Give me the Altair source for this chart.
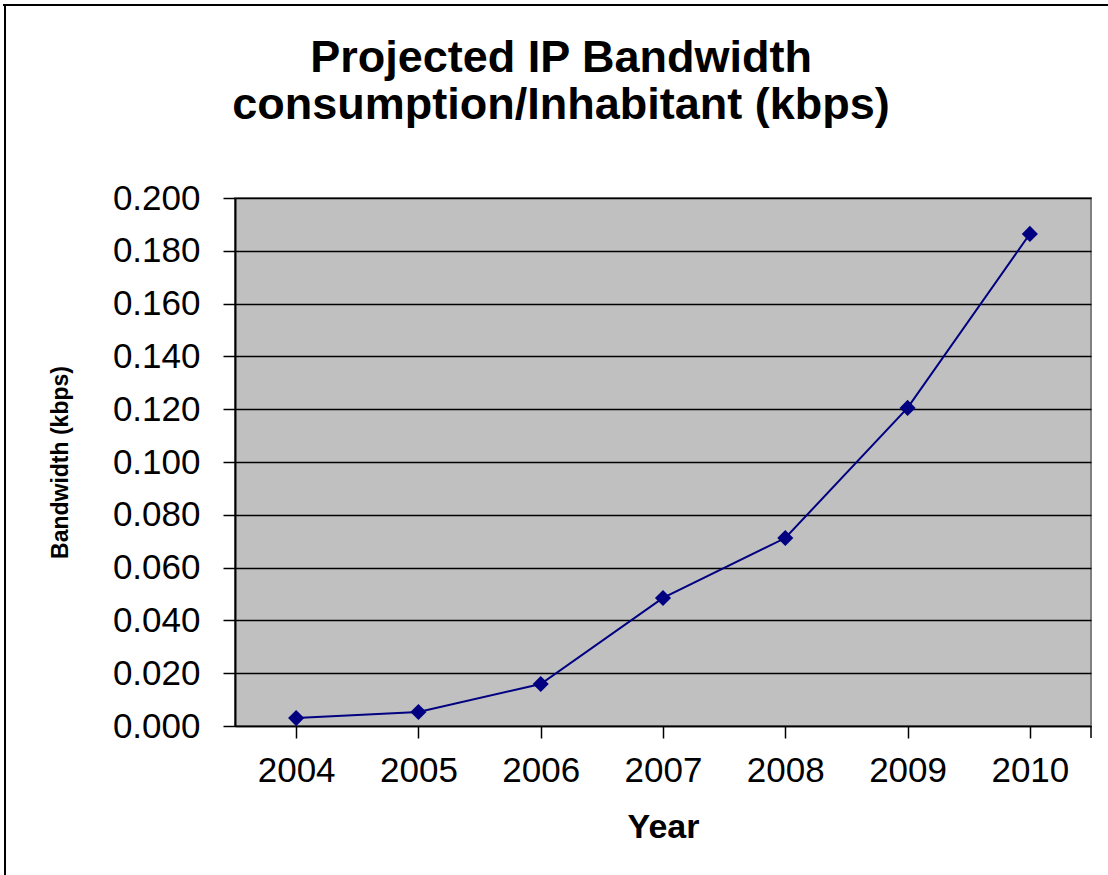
import altair as alt
import pandas as pd

years = ["2004", "2005", "2006", "2007", "2008", "2009", "2010"]
bandwidth = [0.0030, 0.0053, 0.0159, 0.0485, 0.0712, 0.1205, 0.1864]
title_lines = ["Projected IP Bandwidth", "consumption/Inhabitant (kbps)"]

df = pd.DataFrame({"Year": years, "Bandwidth": bandwidth})
one = pd.DataFrame({"k": [0]})

FONT = "Liberation Sans"
NAVY = "#000080"

x_enc = alt.X(
    "Year:N",
    sort=years,
    scale=alt.Scale(paddingInner=0, paddingOuter=0),
    axis=alt.Axis(
        title="Year", titleFont=FONT, titleFontSize=34, titleFontWeight="bold",
        titleColor="black", titlePadding=22,
        labelFont=FONT, labelFontSize=35, labelColor="black", labelAngle=0,
        labelPadding=15, tickSize=12, tickColor="black", tickWidth=1.5,
        domainColor="black", domainWidth=1.5, bandPosition=0, grid=False,
    ),
)
y_enc = alt.Y(
    "Bandwidth:Q",
    scale=alt.Scale(domain=[0, 0.2], nice=False),
    axis=alt.Axis(
        title="Bandwidth (kbps)", titleFont=FONT, titleFontSize=23,
        titleFontWeight="bold", titleColor="black", titlePadding=40,
        values=[i * 0.02 for i in range(11)], format=".3f",
        labelFont=FONT, labelFontSize=35, labelColor="black", labelPadding=23,
        tickSize=12, tickColor="black", tickWidth=1.5,
        domainColor="black", domainWidth=2,
        grid=True, gridColor="black", gridWidth=1.5,
    ),
)

line = alt.Chart(df).mark_line(color=NAVY, strokeWidth=2).encode(x=x_enc, y=y_enc)
pts = alt.Chart(df).mark_point(
    shape="diamond", filled=True, color=NAVY, size=260, opacity=1
).encode(x=alt.X("Year:N", sort=years), y="Bandwidth:Q")

end_tick = alt.Chart(one).mark_rule(color="black", strokeWidth=1.5).encode(
    x=alt.value(856), y=alt.value(528), y2=alt.value(540)
)
border_left = alt.Chart(one).mark_rule(color="black", strokeWidth=2).encode(
    x=alt.value(-230), y=alt.value(-193), y2=alt.value(690)
)
border_top = alt.Chart(one).mark_rule(color="black", strokeWidth=2).encode(
    x=alt.value(-232), x2=alt.value(900), y=alt.value(-193)
)
t1 = alt.Chart(one).mark_text(
    text=title_lines[0], font=FONT, fontSize=45, fontWeight="bold",
    color="black", align="center", baseline="alphabetic",
).encode(x=alt.value(326), y=alt.value(-126))
t2 = alt.Chart(one).mark_text(
    text=title_lines[1], font=FONT, fontSize=45, fontWeight="bold",
    color="black", align="center", baseline="alphabetic",
).encode(x=alt.value(326), y=alt.value(-79))

chart = alt.layer(line, pts, end_tick, border_left, border_top, t1, t2).properties(
    width=856,
    height=528,
    padding={"left": 235, "top": 198, "right": 17, "bottom": 149},
    autosize=alt.AutoSizeParams(type="none"),
    background="white",
).configure_view(
    fill="#C0C0C0", stroke="#808080", strokeWidth=2
)

chart.save("out.html", embed_options={"renderer": "svg", "actions": False})
